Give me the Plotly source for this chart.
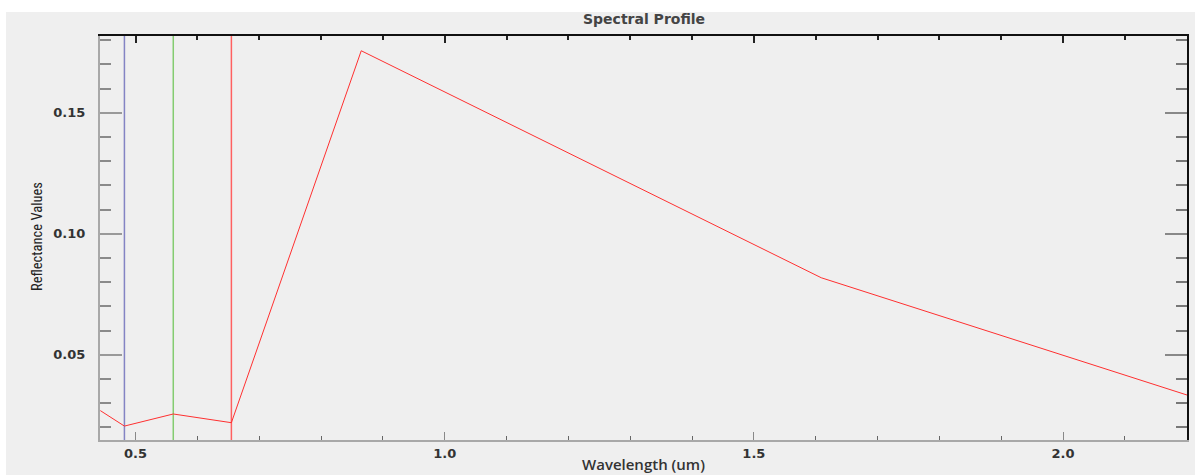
import plotly.graph_objects as go

# Data
wavelengths = [0.443, 0.482, 0.561, 0.655, 0.865, 1.609, 2.201]
reflectance = [0.0269, 0.0205, 0.0255, 0.0219, 0.1756, 0.0818, 0.0333]
band_centers = [0.482, 0.561, 0.655]
band_colors = ["#8484C4", "#84CC70", "#FF6060"]
x_ticks = [0.5, 1.0, 1.5, 2.0]
y_ticks = [0.05, 0.10, 0.15]
x_range = [0.4425, 2.2005]
y_range = [0.01475, 0.1817]

W, H = 1195, 475
ML, MR, MT, MB = 100, 8, 36, 35
PW, PH = W - ML - MR, H - MT - MB

def px_x(p):
    return (p - ML) / PW

def px_y(p):
    return (H - MB - p) / PH

fig = go.Figure()

for c, col in zip(band_centers, band_colors):
    fig.add_trace(go.Scatter(x=[c, c], y=y_range, mode="lines",
                             line=dict(color=col, width=1.5),
                             hoverinfo="skip", showlegend=False))

fig.add_trace(go.Scatter(x=wavelengths, y=reflectance, mode="lines",
                         line=dict(color="#FF3030", width=1),
                         showlegend=False))

# invisible trace for mirror axes
fig.add_trace(go.Scatter(x=x_range, y=y_range, xaxis="x2", yaxis="y2",
                         mode="lines", line=dict(width=0), opacity=0,
                         hoverinfo="skip", showlegend=False))

tickfont = dict(family="DejaVu Sans", size=13, color="#333333", weight="bold")

fig.update_layout(
    width=W, height=H,
    margin=dict(l=ML, r=MR, t=MT, b=MB),
    paper_bgcolor="#FFFFFF",
    plot_bgcolor="#F0F0F0",
    xaxis=dict(range=x_range, tickvals=x_ticks, ticktext=[f"{v:.1f}" for v in x_ticks],
               ticks="inside", ticklen=8, tickwidth=1, tickcolor="#888888",
               minor=dict(ticks="inside", ticklen=4, dtick=0.1, tick0=0.5,
                          tickcolor="#666666", tickwidth=1),
               showline=True, linecolor="#A8A8A8", linewidth=2,
               showgrid=False, zeroline=False, tickfont=tickfont,
               ticklabelstandoff=0),
    yaxis=dict(range=y_range, tickvals=y_ticks, ticktext=[f"{v:.2f}" for v in y_ticks],
               ticks="inside", ticklen=22, tickwidth=1.5, tickcolor="#999999",
               minor=dict(ticks="inside", ticklen=11, dtick=0.01, tick0=0.0,
                          tickcolor="#8A8A8A", tickwidth=1.5),
               showline=True, linecolor="#A8A8A8", linewidth=2,
               showgrid=False, zeroline=False, tickfont=tickfont,
               ticklabelstandoff=10),
    xaxis2=dict(range=x_range, overlaying="x", side="top", showticklabels=False,
                tickvals=x_ticks, ticks="inside", ticklen=7, tickwidth=1.5,
                tickcolor="#222222",
                minor=dict(ticks="inside", ticklen=4, dtick=0.1, tick0=0.5,
                           tickcolor="#222222", tickwidth=1.5),
                showline=True, linecolor="#111111", linewidth=1.5,
                showgrid=False, zeroline=False),
    yaxis2=dict(range=y_range, overlaying="y", side="right", showticklabels=False,
                tickvals=y_ticks, ticks="inside", ticklen=22, tickwidth=1.5,
                tickcolor="#888888",
                minor=dict(ticks="inside", ticklen=11, dtick=0.01, tick0=0.0,
                           tickcolor="#777777", tickwidth=1.5),
                showline=True, linecolor="#111111", linewidth=1.5,
                showgrid=False, zeroline=False),
    shapes=[
        dict(type="rect", xref="paper", yref="paper", layer="below",
             x0=px_x(6), x1=px_x(W + 5), y0=px_y(H + 5), y1=px_y(12),
             fillcolor="#EFEFEF", line=dict(width=0)),
    ],
    annotations=[
        dict(text="Spectral Profile", xref="paper", yref="paper",
             x=0.5, y=px_y(18.5), xanchor="center", yanchor="middle",
             showarrow=False,
             font=dict(family="DejaVu Sans", size=14, color="#444444", weight="bold")),
        dict(text="Wavelength (um)", xref="paper", yref="paper",
             x=0.5, y=px_y(463.5), xanchor="center", yanchor="middle",
             showarrow=False,
             font=dict(family="Open Sans", size=15, color="#333333", weight=600)),
        dict(text="Reflectance Values", xref="paper", yref="paper",
             x=px_x(37), y=px_y(237), xanchor="center", yanchor="middle",
             textangle=-90, showarrow=False,
             font=dict(family="Liberation Sans Narrow, Roboto Condensed, sans-serif",
                       size=14.5, color="#222222")),
    ],
)

fig.write_html("out.html")
